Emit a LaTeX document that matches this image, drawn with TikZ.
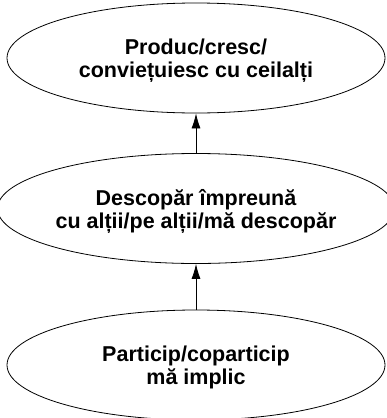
\documentclass[tikz,border=0pt]{standalone}
\usepackage{fontspec}
\setmainfont{Liberation Sans}
\usetikzlibrary{shapes.geometric,arrows.meta}

\begin{document}
\begin{tikzpicture}%
	[x=1pt, y=1pt,
	stage/.style={ellipse, draw=black, line width=0.8pt, inner sep=0pt,
		minimum width=378pt, minimum height=110pt, align=center, text depth=0pt,
		font=\fontsize{21.5}{23}\selectfont\bfseries},
	link/.style={draw=black, line width=0.8pt, -{Latex[length=15pt,width=9pt]}}]
%
%% Bounding box of the picture
%%
\useasboundingbox (0,0) rectangle (387,-418);
%%
%% The three stages
%%
\node[stage] (produc) at (196,-58) {Produc/cresc/\\conviețuiesc cu ceilalți};
\node[stage] (descopar) at (196,-208.5) {Descopăr împreună\\cu alții/pe alții/mă descopăr};
\node[stage] (particip) at (196,-365) {Particip/coparticip\\mă implic};
%%
%% Arrows between the stages
%%
\draw[link] (particip.north) -- (descopar.south);
\draw[link] (descopar.north) -- (produc.south);
%%
\end{tikzpicture}
\end{document}
